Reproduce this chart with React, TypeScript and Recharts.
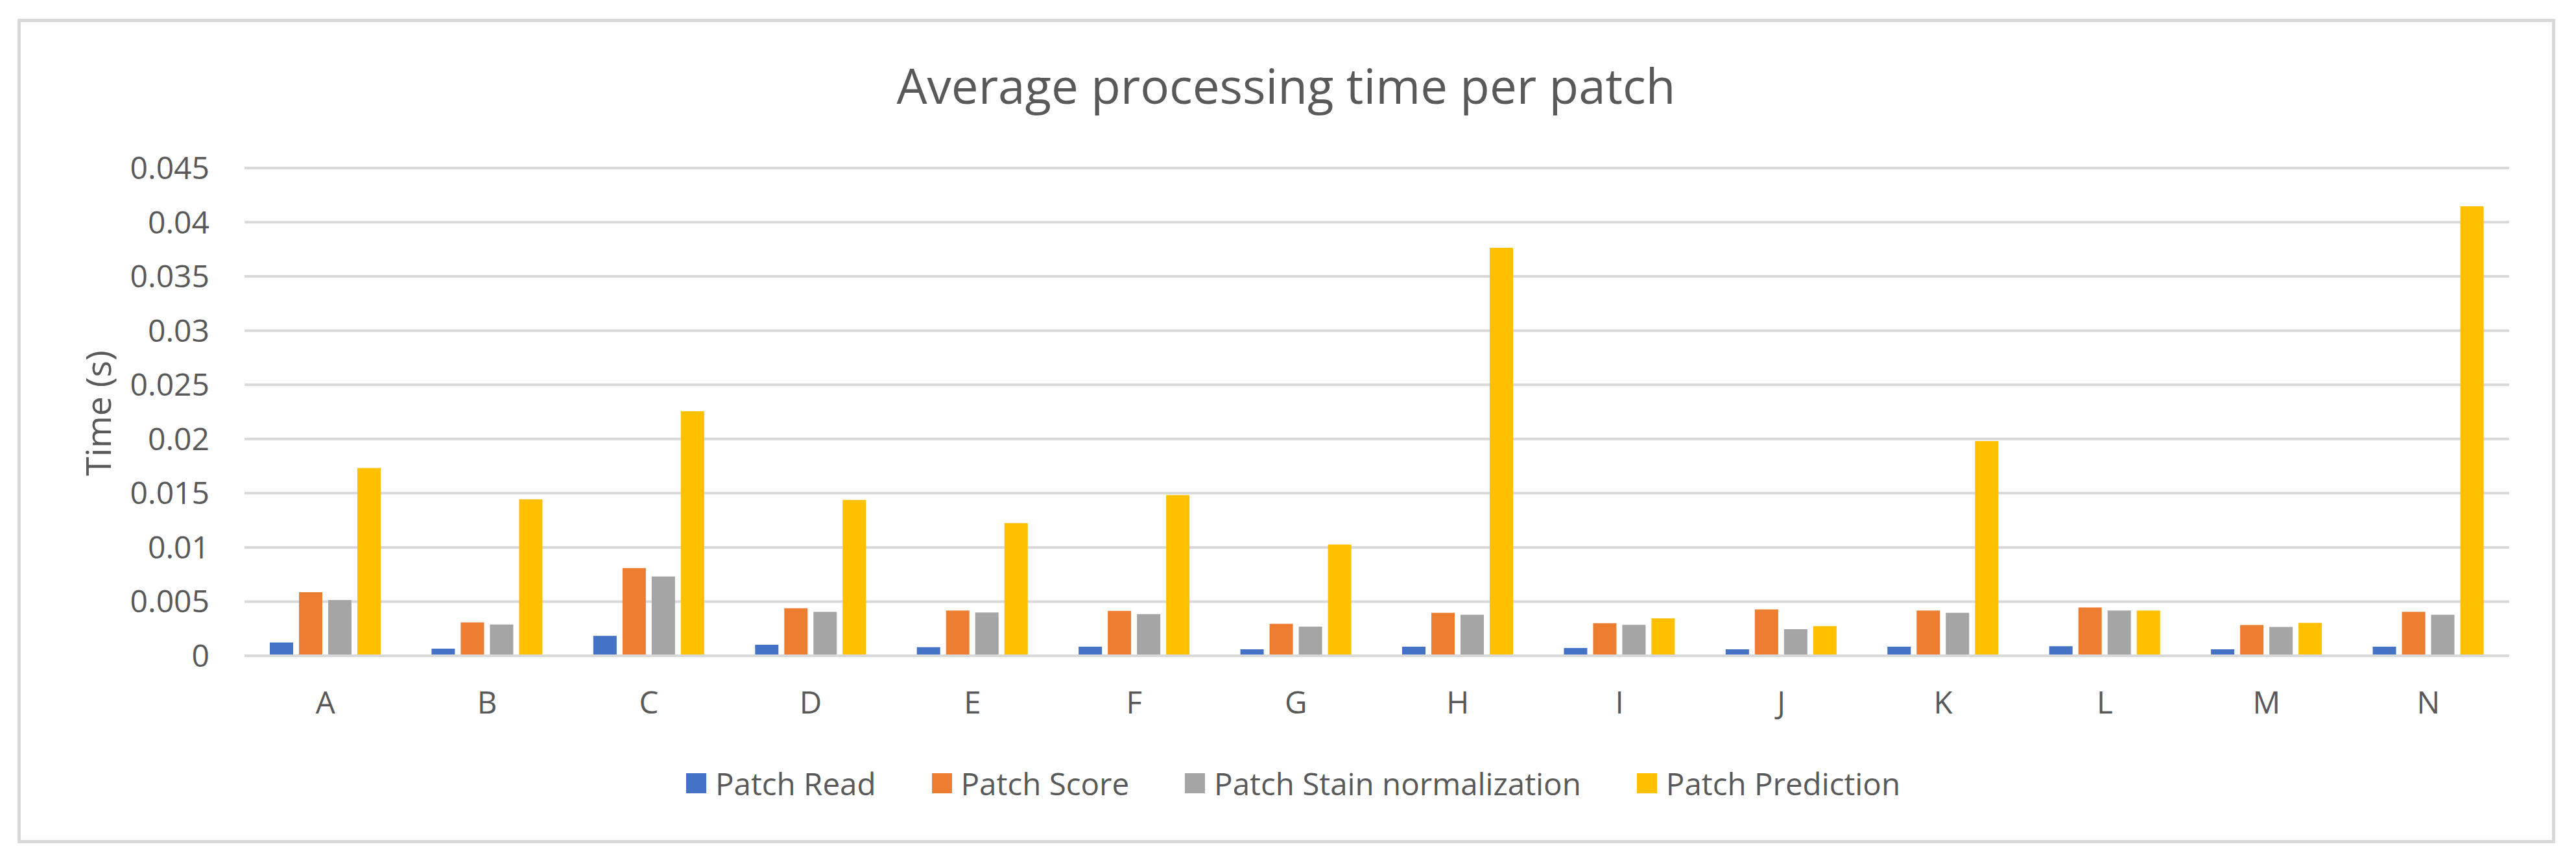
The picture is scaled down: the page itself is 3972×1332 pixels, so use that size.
import React from "react";
import {
  Bar,
  BarChart,
  CartesianGrid,
  Label,
  Legend,
  XAxis,
  YAxis,
} from "recharts";

// values (seconds)
const categories = ["A", "B", "C", "D", "E", "F", "G", "H", "I", "J", "K", "L", "M", "N"];
const patchRead = [0.00122, 0.00066, 0.00184, 0.00102, 0.0008, 0.00084, 0.0006, 0.00084, 0.00072, 0.0006, 0.00084, 0.00088, 0.0006, 0.00084];
const patchScore = [0.00586, 0.00308, 0.0081, 0.00438, 0.00418, 0.00414, 0.00294, 0.00396, 0.003, 0.00428, 0.00418, 0.00446, 0.00284, 0.00406];
const patchStain = [0.00514, 0.00288, 0.00732, 0.00406, 0.004, 0.00384, 0.0027, 0.00378, 0.00286, 0.00246, 0.00396, 0.00418, 0.00266, 0.00378];
const patchPrediction = [0.01732, 0.01444, 0.02256, 0.01438, 0.01224, 0.01482, 0.01026, 0.03764, 0.00346, 0.00274, 0.0198, 0.00418, 0.00304, 0.04147];
const yTicks = [0, 0.005, 0.01, 0.015, 0.02, 0.025, 0.03, 0.035, 0.04, 0.045];

const seriesNames = ["Patch Read", "Patch Score", "Patch Stain normalization", "Patch Prediction"];
const seriesKeys = ["read", "score", "stain", "prediction"];
const seriesColors = ["#4472C4", "#ED7D31", "#A5A5A5", "#FFC000"];

const FONT = "'Open Sans', sans-serif";
const TEXT = "#595959";
const GRID = "#d9d9d9";

const data = categories.map((name, i) => ({
  name,
  read: patchRead[i],
  score: patchScore[i],
  stain: patchStain[i],
  prediction: patchPrediction[i],
}));

function renderLegend() {
  return (
    <div
      style={{
        height: 60,
        display: "flex",
        justifyContent: "center",
        alignItems: "center",
        fontFamily: FONT,
        fontSize: 47.5,
        color: TEXT,
        whiteSpace: "nowrap",
      }}
    >
      {seriesNames.map((n, i) => (
        <div
          key={n}
          style={{ display: "flex", alignItems: "center", marginLeft: i === 0 ? 0 : 86 }}
        >
          <span
            style={{ width: 31, height: 31, background: seriesColors[i], marginRight: 14, display: "inline-block" }}
          />
          <span>{n}</span>
        </div>
      ))}
    </div>
  );
}

function YLabel(props: any) {
  const vb = props.viewBox || { x: 0, y: 259, width: 377, height: 752 };
  const x = vb.x + 150;
  const y = vb.y + vb.height / 2 + 2;
  return (
    <text
      x={x}
      y={y}
      transform={`rotate(-90, ${x}, ${y})`}
      textAnchor="middle"
      dominantBaseline="central"
      fill={TEXT}
      fontFamily={FONT}
      fontSize={53.5}
    >
      Time (s)
    </text>
  );
}

export default function App() {
  return (
    <div
      style={{
        position: "absolute",
        left: 0,
        top: 0,
        width: 3972,
        height: 1332,
        background: "#fff",
      }}
    >
      <div
        style={{
          position: "absolute",
          left: 27,
          top: 29,
          width: 3913,
          height: 1271,
          border: `5px solid ${GRID}`,
          boxSizing: "border-box",
        }}
      />
      <svg
        width={3972}
        height={200}
        style={{ position: "absolute", left: 0, top: 0 }}
      >
        <text x={1983} y={160} textAnchor="middle" fill={TEXT} fontFamily={FONT} fontSize={74.5}>
          Average processing time per patch
        </text>
      </svg>
      <div style={{ position: "absolute", left: 0, top: 0 }}>
        <BarChart
          width={3972}
          height={1332}
          data={data}
          margin={{ top: 259, right: 103, left: 0, bottom: 141 }}
          barSize={36}
          barGap={9}
        >
          <CartesianGrid vertical={false} stroke={GRID} strokeWidth={4} />
          <XAxis
            dataKey="name"
            height={120}
            tickLine={false}
            tickSize={0}
            tickMargin={55}
            axisLine={{ stroke: GRID, strokeWidth: 4 }}
            tick={{ fill: TEXT, fontFamily: FONT, fontSize: 47.5 }}
          />
          <YAxis
            width={377}
            domain={[0, 0.045]}
            ticks={yTicks}
            interval={0}
            tickLine={false}
            axisLine={false}
            tickSize={0}
            tickMargin={54}
            tick={{ fill: TEXT, fontFamily: FONT, fontSize: 48 }}
          >
            <Label content={<YLabel />} />
          </YAxis>
          <Legend
            verticalAlign="bottom"
            layout="horizontal"
            content={renderLegend}
            wrapperStyle={{ left: 38, top: 1177, width: 3912, height: 60, bottom: "auto" }}
          />
          {seriesKeys.map((k, i) => (
            <Bar
              key={k}
              dataKey={k}
              name={seriesNames[i]}
              fill={seriesColors[i]}
              isAnimationActive={false}
            />
          ))}
        </BarChart>
      </div>
    </div>
  );
}
